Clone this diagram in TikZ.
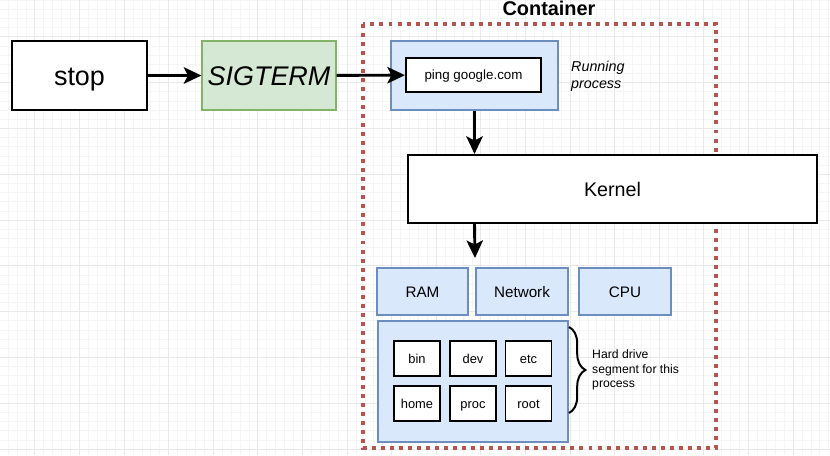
\documentclass[tikz,border=0pt]{standalone}
\usepackage{fontspec}
\setmainfont{Liberation Sans}
\usetikzlibrary{arrows.meta,decorations.pathreplacing}
\definecolor{sigfill}{HTML}{D5E8D4}
\definecolor{sigborder}{HTML}{82B366}
\definecolor{bluefill}{HTML}{DAE8FC}
\definecolor{blueborder}{HTML}{6C8EBF}
\definecolor{dotred}{HTML}{B85450}
\definecolor{gridminor}{HTML}{F5F5F5}
\definecolor{gridmajor}{HTML}{E9E9E9}

\begin{document}
\begin{tikzpicture}[x=0.3mm,y=-0.3mm,
	capmid/.style={inner sep=0pt,text height=#1,text depth=0pt},
	box/.style={draw=black,line width=1.8pt,fill=white},
	filebox/.style={capmid=7.9pt,draw=black,line width=1.5pt,fill=white,minimum width=13.8mm,minimum height=10.5mm,font=\fontsize{11}{13}\selectfont},
	sigbox/.style={draw=sigborder,line width=1pt,fill=sigfill},
	bluebox/.style={inner sep=0pt,draw=blueborder,line width=1pt,fill=bluefill},
	resbox/.style={bluebox,capmid=9.4pt,minimum height=14.1mm,font=\fontsize{13}{15}\selectfont},
	flow/.style={line width=2.5pt,-{Stealth[length=15pt,width=14pt,inset=3.5pt]}}]
	\useasboundingbox (0,0) rectangle (830,455);
	\fill[white] (0,0) rectangle (830,455);
	% grid
	\foreach \gx in {7.94,16.86,...,830} \draw[gridminor,line width=0.4pt] (\gx,0) -- (\gx,455);
	\foreach \gy in {0.06,9.22,...,455} \draw[gridminor,line width=0.4pt] (0,\gy) -- (830,\gy);
	\foreach \gx in {34.7,79.3,...,830} \draw[gridmajor,line width=0.6pt] (\gx,0) -- (\gx,455);
	\foreach \gy in {36.7,82.5,...,455} \draw[gridmajor,line width=0.6pt] (0,\gy) -- (830,\gy);
	% container
	\draw[dotred,line width=3.4pt,dash pattern=on 3.4pt off 4.3pt] (363,24) rectangle (716,448);
	\node[font=\bfseries\fontsize{17}{19}\selectfont] (container) at (549,8) {Container};
	% signal
	\node[box,capmid=16.5pt,minimum width=40.5mm,minimum height=20.7mm,font=\fontsize{23}{27}\selectfont] (stop) at (79.5,75.5) {stop};
	\node[sigbox,capmid=16.5pt,minimum width=40.2mm,minimum height=20.7mm,font=\itshape\fontsize{23}{27}\selectfont] (sigterm) at (269,75.5) {SIGTERM};
	% running process
	\node[bluebox,minimum width=50.1mm,minimum height=20.7mm] (process) at (474.5,75.5) {};
	\node[box,capmid=8.2pt,minimum width=40.5mm,minimum height=10.2mm,font=\fontsize{11.4}{13}\selectfont] (ping) at (473.5,75) {ping google.com};
	\node[anchor=west,align=left,inner sep=0pt,font=\itshape\fontsize{12.2}{14.5}\selectfont] (runlabel) at (571,76) {Running\\process};
	% kernel
	\node[box,capmid=12pt,minimum width=122.7mm,minimum height=20.4mm,font=\fontsize{16.8}{19}\selectfont] (kernel) at (612.5,189) {Kernel};
	\coordinate (res) at (475,258);
	% resources
	\node[resbox,minimum width=27.3mm] (ram) at (422.5,291.5) {RAM};
	\node[resbox,minimum width=27.6mm] (network) at (522,291.5) {Network};
	\node[resbox,minimum width=27.6mm] (cpu) at (625,291.5) {CPU};
	% hard drive
	\node[bluebox,minimum width=57mm,minimum height=36.3mm] (disk) at (473,381.5) {};
	\node[filebox] (bin) at (417,358.5) {bin};
	\node[filebox] (dev) at (473,358.5) {dev};
	\node[filebox] (etc) at (528.5,358.5) {etc};
	\node[filebox] (home) at (417,403.5) {home};
	\node[filebox] (proc) at (473,403.5) {proc};
	\node[filebox] (root) at (528.5,403.5) {root};
	\draw[line width=1.7pt,decorate,decoration={brace,amplitude=14pt}] (569,327) -- (569,413);
	\node[anchor=west,align=left,inner sep=0pt,font=\fontsize{10.4}{12.4}\selectfont] (hdlabel) at (592,370) {Hard drive\\segment for this\\process};
	% arrows
	\draw[flow] (stop) -- (sigterm);
	\draw[flow] (sigterm) -- (ping);
	\draw[flow] (process.south) -- (process.south |- kernel.north);
	\draw[flow] (kernel.south -| process.south) -- (res);
\end{tikzpicture}
\end{document}
